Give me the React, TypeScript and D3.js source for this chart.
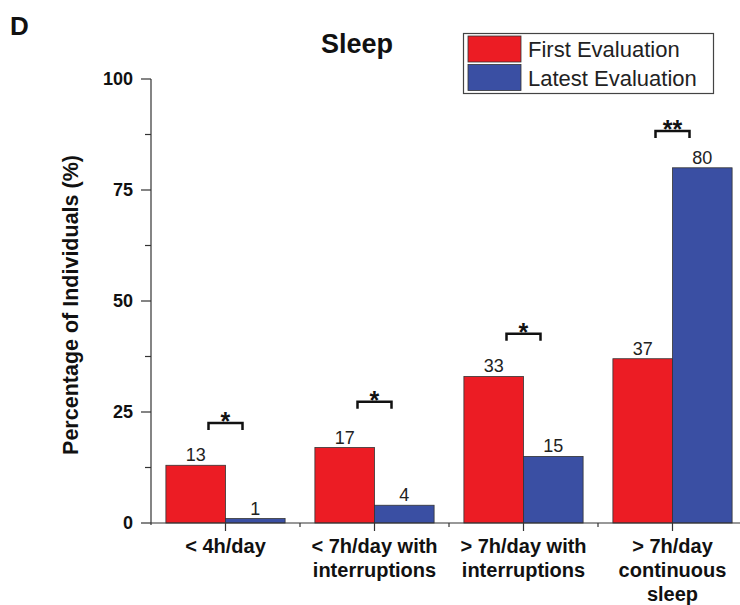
import React, { useRef, useEffect } from "react";
import * as d3 from "d3";

const categories = [
  ["< 4h/day"],
  ["< 7h/day with", "interruptions"],
  ["> 7h/day with", "interruptions"],
  ["> 7h/day", "continuous", "sleep"],
];
const firstEval = [13, 17, 33, 37];
const latestEval = [1, 4, 15, 80];
const signif = ["*", "*", "*", "**"];
const bracketLevel = [22.5, 27.3, 42.6, 88.3];
const yTicks = [0, 25, 50, 75, 100];
const yMinorTicks = [12.5, 37.5, 62.5, 87.5];
const seriesNames = ["First Evaluation", "Latest Evaluation"];
const colors = ["#ec1c24", "#3a4fa3"];

const App = () => {
  const ref = useRef<SVGSVGElement>(null);

  useEffect(() => {
    const svg = d3.select(ref.current);
    svg.selectAll("*").remove();

    const font = "Arial, 'Liberation Sans', Helvetica, sans-serif";
    const ink = "#111";
    const left = 151;
    const bottom = 523;
    const top = 79;

    const keys = categories.map((c) => c.join(" "));
    const x = d3
      .scaleBand()
      .domain(keys)
      .range([left, 747])
      .paddingInner(0.2)
      .paddingOuter(0.1);
    const step = x.step();

    const xSub = d3
      .scaleBand()
      .domain(["0", "1"])
      .range([0, x.bandwidth()]);

    const y = d3.scaleLinear().domain([0, 100]).range([bottom, top]);

    // panel letter
    svg
      .append("text")
      .attr("x", 10)
      .attr("y", 35)
      .attr("font-family", font)
      .attr("font-weight", "bold")
      .attr("font-size", 26)
      .attr("fill", ink)
      .text("D");

    // title
    svg
      .append("text")
      .attr("x", 357)
      .attr("y", 53)
      .attr("text-anchor", "middle")
      .attr("font-family", font)
      .attr("font-weight", "bold")
      .attr("font-size", 27)
      .attr("fill", ink)
      .text("Sleep");

    // bars
    const groups = svg
      .append("g")
      .selectAll("g")
      .data(keys)
      .join("g")
      .attr("transform", (d) => `translate(${x(d)},0)`);

    groups.each(function (d, i) {
      const g = d3.select(this);
      const vals = [firstEval[i], latestEval[i]];
      vals.forEach((v, j) => {
        g.append("rect")
          .attr("x", xSub(String(j)))
          .attr("y", y(v))
          .attr("width", xSub.bandwidth())
          .attr("height", y(0) - y(v))
          .attr("fill", colors[j])
          .attr("stroke", "#333")
          .attr("stroke-width", 0.8);
        g.append("text")
          .attr("x", xSub(String(j)) + xSub.bandwidth() / 2)
          .attr("y", y(v) - 4)
          .attr("text-anchor", "middle")
          .attr("font-family", font)
          .attr("font-size", 18)
          .attr("fill", "#222")
          .text(v);
      });

      // significance bracket
      const cx = x.bandwidth() / 2;
      const by = y(bracketLevel[i]);
      g.append("path")
        .attr("d", `M${cx - 17},${by + 7}V${by}H${cx + 17}V${by + 7}`)
        .attr("fill", "none")
        .attr("stroke", ink)
        .attr("stroke-width", 2.5);
      g.append("text")
        .attr("x", cx)
        .attr("y", by + 7)
        .attr("text-anchor", "middle")
        .attr("font-family", font)
        .attr("font-weight", "bold")
        .attr("font-size", 25)
        .attr("fill", ink)
        .text(signif[i]);
    });

    // y axis
    const yAxis = svg.append("g");
    yAxis
      .append("line")
      .attr("x1", left)
      .attr("x2", left)
      .attr("y1", y(100))
      .attr("y2", bottom + 2)
      .attr("stroke", "#333")
      .attr("stroke-width", 1.2);
    yAxis
      .selectAll(".major")
      .data(yTicks)
      .join("line")
      .attr("x1", left - 10)
      .attr("x2", left)
      .attr("y1", (d) => y(d))
      .attr("y2", (d) => y(d))
      .attr("stroke", "#333")
      .attr("stroke-width", 1.2);
    yAxis
      .selectAll(".minor")
      .data(yMinorTicks)
      .join("line")
      .attr("x1", left - 6)
      .attr("x2", left)
      .attr("y1", (d) => y(d))
      .attr("y2", (d) => y(d))
      .attr("stroke", "#333")
      .attr("stroke-width", 1.2);
    yAxis
      .selectAll("text")
      .data(yTicks)
      .join("text")
      .attr("x", left - 18)
      .attr("y", (d) => y(d) + 6)
      .attr("text-anchor", "end")
      .attr("font-family", font)
      .attr("font-weight", "bold")
      .attr("font-size", 18)
      .attr("fill", ink)
      .text((d) => d);

    // y label
    svg
      .append("text")
      .attr("transform", "rotate(-90)")
      .attr("x", -305)
      .attr("y", 78)
      .attr("text-anchor", "middle")
      .attr("font-family", font)
      .attr("font-weight", "bold")
      .attr("font-size", 21.5)
      .attr("fill", ink)
      .text("Percentage of Individuals (%)");

    // x axis
    const xAxis = svg.append("g");
    xAxis
      .append("line")
      .attr("x1", left)
      .attr("x2", 740)
      .attr("y1", bottom)
      .attr("y2", bottom)
      .attr("stroke", "#333")
      .attr("stroke-width", 1.2);
    xAxis
      .selectAll(".center")
      .data(keys)
      .join("line")
      .attr("x1", (d) => x(d) + x.bandwidth() / 2)
      .attr("x2", (d) => x(d) + x.bandwidth() / 2)
      .attr("y1", bottom)
      .attr("y2", bottom + 8)
      .attr("stroke", "#333")
      .attr("stroke-width", 1.2);
    xAxis
      .selectAll(".edge")
      .data(keys.slice(1))
      .join("line")
      .attr("x1", (d) => x(d) + x.bandwidth() / 2 - step / 2)
      .attr("x2", (d) => x(d) + x.bandwidth() / 2 - step / 2)
      .attr("y1", bottom)
      .attr("y2", bottom + 4)
      .attr("stroke", "#333")
      .attr("stroke-width", 1.2);

    const labels = xAxis
      .selectAll("text")
      .data(categories)
      .join("text")
      .attr("text-anchor", "middle")
      .attr("font-family", font)
      .attr("font-weight", "bold")
      .attr("font-size", 20)
      .attr("fill", ink);
    labels
      .selectAll("tspan")
      .data((d, i) => d.map((line) => ({ line, i })))
      .join("tspan")
      .attr("x", (d) => x(keys[d.i]) + x.bandwidth() / 2)
      .attr("y", (d, k) => 553 + k * 24)
      .text((d) => d.line);

    // legend
    const lg = svg.append("g");
    lg.append("rect")
      .attr("x", 463.5)
      .attr("y", 33.5)
      .attr("width", 250)
      .attr("height", 60)
      .attr("fill", "white")
      .attr("stroke", "#444")
      .attr("stroke-width", 1.2);
    seriesNames.forEach((name, j) => {
      lg.append("rect")
        .attr("x", 468)
        .attr("y", 36 + j * 28.5)
        .attr("width", 53)
        .attr("height", 26)
        .attr("fill", colors[j])
        .attr("stroke", "#333")
        .attr("stroke-width", 0.8);
      lg.append("text")
        .attr("x", 528)
        .attr("y", 57 + j * 29)
        .attr("font-family", font)
        .attr("font-size", 22)
        .attr("fill", "#222")
        .text(name);
    });
  }, []);

  return (
    <svg
      ref={ref}
      width={740}
      height={605}
      style={{ position: "absolute", left: 0, top: 0, background: "white" }}
    />
  );
};

export default App;
